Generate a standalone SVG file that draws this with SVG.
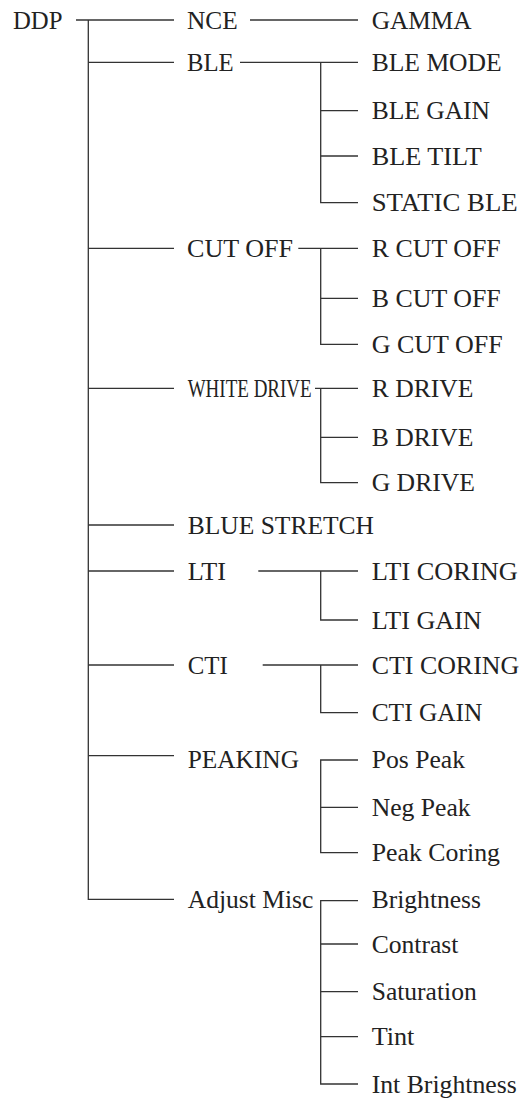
<svg xmlns="http://www.w3.org/2000/svg" width="532" height="1099" viewBox="0 0 532 1099">
<style>
text{font-family:"Liberation Serif","Times New Roman",serif;font-size:26px;fill:#222}
.c line, .c path{stroke:#333;stroke-width:1.3;fill:none}
</style>
<rect width="532" height="1099" fill="#fff"/>
<g class="c" id="connectors">
<line x1="76" y1="20" x2="174" y2="20"/>
<path d="M88.3 20 V899.3 H174"/>
<line x1="88.3" y1="62.3" x2="174" y2="62.3"/>
<line x1="88.3" y1="248.3" x2="174" y2="248.3"/>
<line x1="88.3" y1="388.3" x2="174" y2="388.3"/>
<line x1="88.3" y1="525" x2="174" y2="525"/>
<line x1="88.3" y1="571" x2="174" y2="571"/>
<line x1="88.3" y1="665" x2="174" y2="665"/>
<line x1="88.3" y1="755.7" x2="174" y2="755.7"/>
<line x1="250" y1="20" x2="358" y2="20"/>
<line x1="240" y1="62.3" x2="358" y2="62.3"/>
<path d="M320.7 62.3 V202.7 H358"/>
<line x1="320.7" y1="110.7" x2="358" y2="110.7"/>
<line x1="320.7" y1="156" x2="358" y2="156"/>
<line x1="298.3" y1="248.3" x2="358" y2="248.3"/>
<path d="M320.7 248.3 V344.3 H358"/>
<line x1="320.7" y1="298.3" x2="358" y2="298.3"/>
<line x1="315" y1="388.3" x2="358" y2="388.3"/>
<path d="M320.7 388.3 V482.7 H358"/>
<line x1="320.7" y1="437.3" x2="358" y2="437.3"/>
<line x1="258.3" y1="571" x2="358" y2="571"/>
<path d="M320.7 571 V620 H358"/>
<line x1="262.7" y1="665" x2="358" y2="665"/>
<path d="M320.7 665 V712.7 H358"/>
<path d="M358 760 H320.7 V852.7 H358"/>
<line x1="320.7" y1="807.3" x2="358" y2="807.3"/>
<path d="M358 900.7 H320.7 V1084 H358"/>
<line x1="320.7" y1="944" x2="358" y2="944"/>
<line x1="320.7" y1="991.7" x2="358" y2="991.7"/>
<line x1="320.7" y1="1036.7" x2="358" y2="1036.7"/>
</g>
<g id="n-ddp"><text x="13" y="28.6" textLength="49.5" lengthAdjust="spacingAndGlyphs">DDP</text></g>
<g id="n-nce"><text x="187" y="28.6" textLength="50.7" lengthAdjust="spacingAndGlyphs">NCE</text></g>
<g id="n-gamma"><text x="371.7" y="28.6" textLength="100" lengthAdjust="spacingAndGlyphs">GAMMA</text></g>
<g id="n-ble"><text x="187" y="70.9" textLength="46.7" lengthAdjust="spacingAndGlyphs">BLE</text></g>
<g id="n-ble-mode"><text x="371.7" y="70.9" textLength="130" lengthAdjust="spacingAndGlyphs">BLE MODE</text></g>
<g id="n-ble-gain"><text x="371.7" y="119.3" textLength="118.3" lengthAdjust="spacingAndGlyphs">BLE GAIN</text></g>
<g id="n-ble-tilt"><text x="371.7" y="164.6" textLength="110" lengthAdjust="spacingAndGlyphs">BLE TILT</text></g>
<g id="n-static-ble"><text x="371.7" y="211.3" textLength="146" lengthAdjust="spacingAndGlyphs">STATIC BLE</text></g>
<g id="n-cut-off"><text x="187" y="256.9" textLength="106" lengthAdjust="spacingAndGlyphs">CUT OFF</text></g>
<g id="n-r-cut-off"><text x="371.7" y="256.9" textLength="129" lengthAdjust="spacingAndGlyphs">R CUT OFF</text></g>
<g id="n-b-cut-off"><text x="371.7" y="306.9" textLength="129" lengthAdjust="spacingAndGlyphs">B CUT OFF</text></g>
<g id="n-g-cut-off"><text x="371.7" y="352.9" textLength="131" lengthAdjust="spacingAndGlyphs">G CUT OFF</text></g>
<g id="n-white-drive"><text x="187.7" y="396.9" textLength="124" lengthAdjust="spacingAndGlyphs">WHITE DRIVE</text></g>
<g id="n-r-drive"><text x="371.7" y="396.9" textLength="101.7" lengthAdjust="spacingAndGlyphs">R DRIVE</text></g>
<g id="n-b-drive"><text x="371.7" y="445.9" textLength="101.7" lengthAdjust="spacingAndGlyphs">B DRIVE</text></g>
<g id="n-g-drive"><text x="371.7" y="491.3" textLength="103.3" lengthAdjust="spacingAndGlyphs">G DRIVE</text></g>
<g id="n-blue-stretch"><text x="187.7" y="533.6" textLength="186.3" lengthAdjust="spacingAndGlyphs">BLUE STRETCH</text></g>
<g id="n-lti"><text x="187.7" y="579.6" textLength="38.3" lengthAdjust="spacingAndGlyphs">LTI</text></g>
<g id="n-lti-coring"><text x="371.7" y="579.6" textLength="146" lengthAdjust="spacingAndGlyphs">LTI CORING</text></g>
<g id="n-lti-gain"><text x="371.7" y="628.6" textLength="110" lengthAdjust="spacingAndGlyphs">LTI GAIN</text></g>
<g id="n-cti"><text x="187.7" y="673.6" textLength="40" lengthAdjust="spacingAndGlyphs">CTI</text></g>
<g id="n-cti-coring"><text x="371.7" y="673.6" textLength="147.5" lengthAdjust="spacingAndGlyphs">CTI CORING</text></g>
<g id="n-cti-gain"><text x="371.7" y="721.3" textLength="110.7" lengthAdjust="spacingAndGlyphs">CTI GAIN</text></g>
<g id="n-peaking"><text x="187.7" y="767.8" textLength="111.3" lengthAdjust="spacingAndGlyphs">PEAKING</text></g>
<g id="n-pos-peak"><text x="371.7" y="767.8" textLength="93.3" lengthAdjust="spacingAndGlyphs">Pos Peak</text></g>
<g id="n-neg-peak"><text x="371.7" y="815.9" textLength="99" lengthAdjust="spacingAndGlyphs">Neg Peak</text></g>
<g id="n-peak-coring"><text x="371.7" y="861.3" textLength="128.3" lengthAdjust="spacingAndGlyphs">Peak Coring</text></g>
<g id="n-adjust-misc"><text x="187.7" y="907.8" textLength="125.7" lengthAdjust="spacingAndGlyphs">Adjust Misc</text></g>
<g id="n-brightness"><text x="371.7" y="907.8" textLength="109.3" lengthAdjust="spacingAndGlyphs">Brightness</text></g>
<g id="n-contrast"><text x="371.7" y="952.6" textLength="86.7" lengthAdjust="spacingAndGlyphs">Contrast</text></g>
<g id="n-saturation"><text x="371.7" y="1000.3" textLength="105" lengthAdjust="spacingAndGlyphs">Saturation</text></g>
<g id="n-tint"><text x="371.7" y="1045.3" textLength="42.7" lengthAdjust="spacingAndGlyphs">Tint</text></g>
<g id="n-int-brightness"><text x="371.7" y="1092.6" textLength="145" lengthAdjust="spacingAndGlyphs">Int Brightness</text></g>
</svg>
